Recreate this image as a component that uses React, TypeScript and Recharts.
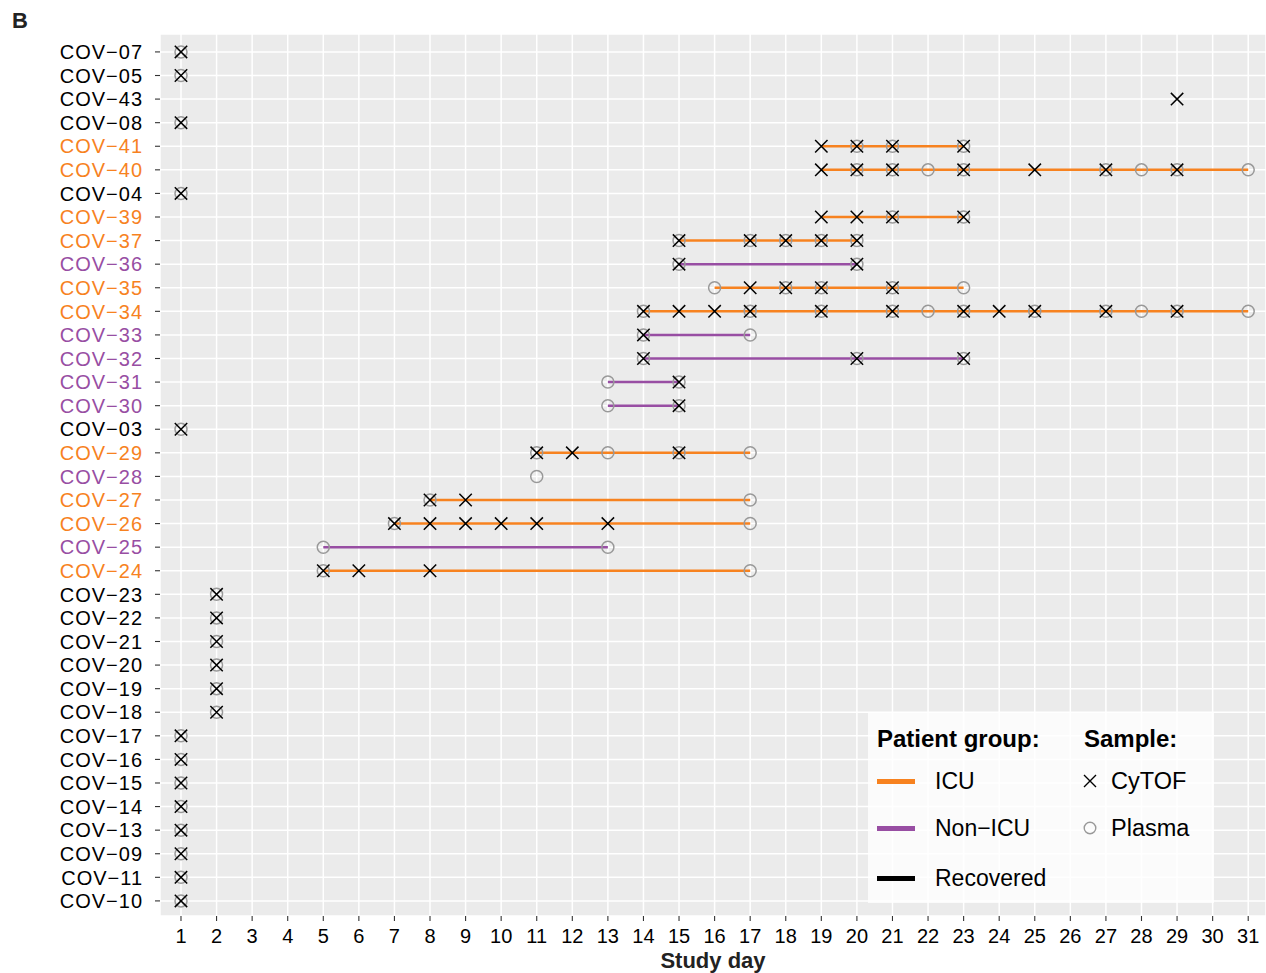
import { ComposedChart, Scatter, XAxis, YAxis, CartesianGrid } from 'recharts'

// Patients, top to bottom as they appear on the y axis
const PATIENTS = [
  'COV−07', 'COV−05', 'COV−43', 'COV−08', 'COV−41', 'COV−40', 'COV−04',
  'COV−39', 'COV−37', 'COV−36', 'COV−35', 'COV−34', 'COV−33', 'COV−32',
  'COV−31', 'COV−30', 'COV−03', 'COV−29', 'COV−28', 'COV−27', 'COV−26',
  'COV−25', 'COV−24', 'COV−23', 'COV−22', 'COV−21', 'COV−20', 'COV−19',
  'COV−18', 'COV−17', 'COV−16', 'COV−15', 'COV−14', 'COV−13', 'COV−09',
  'COV−11', 'COV−10',
]

const GROUPS = [
  'Recovered', 'Recovered', 'Recovered', 'Recovered', 'ICU', 'ICU', 'Recovered',
  'ICU', 'ICU', 'Non-ICU', 'ICU', 'ICU', 'Non-ICU', 'Non-ICU',
  'Non-ICU', 'Non-ICU', 'Recovered', 'ICU', 'Non-ICU', 'ICU', 'ICU',
  'Non-ICU', 'ICU', 'Recovered', 'Recovered', 'Recovered', 'Recovered', 'Recovered',
  'Recovered', 'Recovered', 'Recovered', 'Recovered', 'Recovered', 'Recovered', 'Recovered',
  'Recovered', 'Recovered',
]

// study days with a CyTOF sample, per patient (same order as PATIENTS)
const CYTOF_DAYS: number[][] = [
  [1], [1], [29], [1],
  [19, 20, 21, 23],
  [19, 20, 21, 23, 25, 27, 29],
  [1],
  [19, 20, 21, 23],
  [15, 17, 18, 19, 20],
  [15, 20],
  [17, 18, 19, 21],
  [14, 15, 16, 17, 19, 21, 23, 24, 25, 27, 29],
  [14],
  [14, 20, 23],
  [15],
  [15],
  [1],
  [11, 12, 15],
  [],
  [8, 9],
  [7, 8, 9, 10, 11, 13],
  [],
  [5, 6, 8],
  [2], [2], [2], [2], [2], [2],
  [1], [1], [1], [1], [1], [1], [1], [1],
]

// study days with a plasma sample, per patient
const PLASMA_DAYS: number[][] = [
  [1], [1], [], [1],
  [20, 21, 23],
  [20, 21, 22, 23, 27, 28, 29, 31],
  [1],
  [21, 23],
  [15, 17, 18, 19, 20],
  [15, 20],
  [16, 18, 19, 21, 23],
  [14, 17, 19, 21, 22, 23, 25, 27, 28, 29, 31],
  [14, 17],
  [14, 20, 23],
  [13, 15],
  [13, 15],
  [1],
  [11, 13, 15, 17],
  [11],
  [8, 17],
  [7, 17],
  [5, 13],
  [5, 17],
  [2], [2], [2], [2], [2], [2],
  [1], [1], [1], [1], [1], [1], [1], [1],
]

const DAY_TICKS = [
  1, 2, 3, 4, 5, 6, 7, 8, 9, 10, 11, 12, 13, 14, 15, 16, 17, 18, 19, 20,
  21, 22, 23, 24, 25, 26, 27, 28, 29, 30, 31,
]

const GROUP_COLORS: Record<string, string> = {
  ICU: '#F7821F',
  'Non-ICU': '#984EA3',
  Recovered: '#000000',
}

const FONT = '"Liberation Sans", Arial, Helvetica, sans-serif'

const rows = PATIENTS.map((_, i) => i)

const cytofPoints = CYTOF_DAYS.flatMap((days, row) => days.map((day) => ({ day, row })))
const plasmaPoints = PLASMA_DAYS.flatMap((days, row) => days.map((day) => ({ day, row })))

// one segment per patient, from first to last sampled day
const segments = PATIENTS.map((name, row) => {
  const all = [...CYTOF_DAYS[row], ...PLASMA_DAYS[row]]
  const start = Math.min(...all)
  const end = Math.max(...all)
  return {
    name,
    color: GROUP_COLORS[GROUPS[row]],
    points: [
      { day: start, row },
      { day: end, row },
    ],
    single: start === end,
  }
}).filter((s) => !s.single)

const CrossShape = (p: any) => {
  const { cx, cy } = p
  const s = 6.2
  return (
    <path
      d={`M${cx - s},${cy - s}L${cx + s},${cy + s}M${cx - s},${cy + s}L${cx + s},${cy - s}`}
      stroke="#000"
      strokeWidth={1.5}
      fill="none"
    />
  )
}

const RingShape = (p: any) => (
  <circle cx={p.cx} cy={p.cy} r={6} fill="none" stroke="#999999" strokeWidth={1.5} />
)

const NoShape = () => <g />

const PatientTick = (p: any) => {
  const { x, y, payload } = p
  const i = payload.value as number
  return (
    <text
      x={x}
      y={y}
      dy="0.36em"
      textAnchor="end"
      fontSize={20}
      fontFamily={FONT}
      letterSpacing={1}
      fill={GROUP_COLORS[GROUPS[i]] ?? '#000'}
    >
      {PATIENTS[i]}
    </text>
  )
}

const legendLabel = {
  position: 'absolute' as const,
  fontSize: 23,
  fontFamily: FONT,
  lineHeight: '24px',
  color: '#000',
  whiteSpace: 'nowrap' as const,
}

function SampleLegend() {
  return (
    <div
      style={{
        position: 'absolute',
        left: 868,
        top: 713,
        width: 346,
        height: 190,
        background: 'rgba(255,255,255,0.8)',
      }}
    >
      <div style={{ ...legendLabel, left: 9, top: 14, fontWeight: 'bold', fontSize: 24 }}>
        Patient group:
      </div>
      <div style={{ ...legendLabel, left: 216, top: 14, fontWeight: 'bold', fontSize: 24 }}>
        Sample:
      </div>
      {(['ICU', 'Non-ICU', 'Recovered'] as const).map((g, i) => (
        <div key={g}>
          <div
            style={{
              position: 'absolute',
              left: 9,
              top: [68, 115, 165][i] - 2.5,
              width: 38,
              height: 5,
              background: GROUP_COLORS[g],
            }}
          />
          <div style={{ ...legendLabel, left: 67, top: [68, 115, 165][i] - 12 }}>
            {g === 'Non-ICU' ? 'Non−ICU' : g}
          </div>
        </div>
      ))}
      <svg style={{ position: 'absolute', left: 214, top: 60 }} width={16} height={64}>
        <path d="M2,2L14,14M2,14L14,2" stroke="#000" strokeWidth={1.4} />
        <circle cx={8} cy={55} r={5.8} fill="none" stroke="#999999" strokeWidth={1.4} />
      </svg>
      <div style={{ ...legendLabel, left: 243, top: 68 - 12, fontSize: 23.5 }}>CyTOF</div>
      <div style={{ ...legendLabel, left: 243, top: 115 - 12, fontSize: 23.5 }}>Plasma</div>
    </div>
  )
}

export default function App() {
  return (
    <div
      style={{
        position: 'absolute',
        left: 0,
        top: 0,
        width: 1266,
        height: 973,
        background: '#fff',
        fontFamily: FONT,
        overflow: 'hidden',
      }}
    >
      <div
        style={{
          position: 'absolute',
          left: 12,
          top: 8,
          fontSize: 22,
          fontWeight: 'bold',
          color: '#222',
        }}
      >
        B
      </div>
      <ComposedChart
        width={1266}
        height={973}
        margin={{ top: 34, right: 0, bottom: 0, left: 10 }}
      >
        <CartesianGrid stroke="#ffffff" strokeWidth={1.5} fill="#EBEBEB" />
        <XAxis
          type="number"
          dataKey="day"
          domain={[0.41, 31.5]}
          allowDataOverflow
          ticks={DAY_TICKS}
          interval={0}
          axisLine={false}
          tickLine={{ stroke: '#333', strokeWidth: 1.1 }}
          tickSize={5}
          tickMargin={8}
          height={57}
          tick={{ fontSize: 20, fill: '#000', fontFamily: FONT }}
          label={{
            value: 'Study day',
            position: 'insideBottom',
            offset: 5,
            style: { fontSize: 22, fontWeight: 'bold', fill: '#222', fontFamily: FONT },
          }}
        />
        <YAxis
          type="number"
          dataKey="row"
          reversed
          domain={[-0.76, 36.64]}
          allowDataOverflow
          ticks={rows}
          interval={0}
          axisLine={false}
          tickLine={{ stroke: '#333', strokeWidth: 1.1 }}
          tickSize={5}
          tickMargin={12}
          width={150}
          tick={<PatientTick />}
        />
        {segments.map((s) => (
          <Scatter
            key={s.name}
            data={s.points}
            line={{ stroke: s.color, strokeWidth: 2.5 }}
            shape={<NoShape />}
            isAnimationActive={false}
          />
        ))}
        <Scatter data={plasmaPoints} shape={<RingShape />} isAnimationActive={false} />
        <Scatter data={cytofPoints} shape={<CrossShape />} isAnimationActive={false} />
      </ComposedChart>
      <SampleLegend />
    </div>
  )
}
